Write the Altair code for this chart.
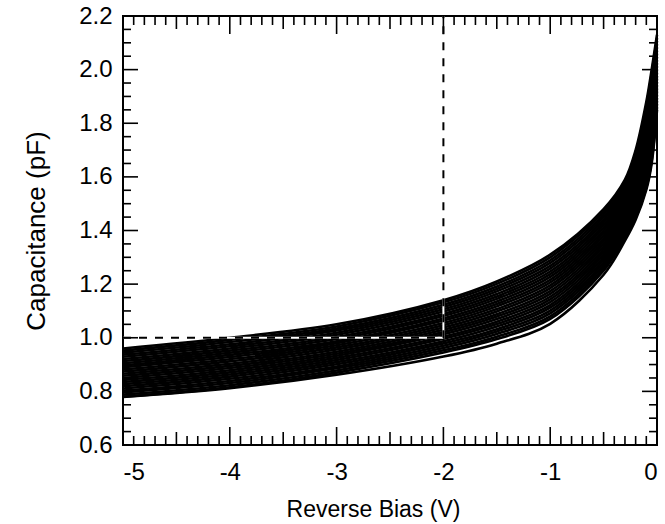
import altair as alt
import pandas as pd

# Reverse bias voltages (V) at which each device curve was read
bias_points = [-5.0, -4.0, -3.0, -2.0, -1.5, -1.0, -0.5, -0.3, -0.2, -0.1, -0.05, 0.0]

# Capacitance (pF) of each device
capacitance_curves = [
    [0.779, 0.812, 0.862, 0.930, 0.978, 1.052, 1.235, 1.362, 1.440, 1.552, 1.650, 1.850],
    [0.780, 0.815, 0.870, 0.945, 0.995, 1.070, 1.250, 1.375, 1.450, 1.560, 1.660, 1.860],
    [0.788, 0.823, 0.878, 0.953, 1.004, 1.080, 1.260, 1.384, 1.461, 1.574, 1.675, 1.872],
    [0.796, 0.831, 0.886, 0.962, 1.014, 1.091, 1.270, 1.394, 1.472, 1.588, 1.690, 1.883],
    [0.803, 0.839, 0.893, 0.970, 1.023, 1.101, 1.280, 1.403, 1.483, 1.602, 1.704, 1.895],
    [0.811, 0.847, 0.901, 0.979, 1.032, 1.112, 1.290, 1.412, 1.493, 1.616, 1.719, 1.907],
    [0.819, 0.855, 0.909, 0.987, 1.042, 1.122, 1.300, 1.422, 1.504, 1.630, 1.734, 1.919],
    [0.827, 0.863, 0.917, 0.996, 1.051, 1.133, 1.310, 1.431, 1.515, 1.643, 1.749, 1.930],
    [0.835, 0.871, 0.925, 1.004, 1.060, 1.143, 1.320, 1.440, 1.526, 1.657, 1.763, 1.942],
    [0.843, 0.879, 0.933, 1.013, 1.070, 1.153, 1.330, 1.450, 1.537, 1.671, 1.778, 1.954],
    [0.850, 0.887, 0.940, 1.021, 1.079, 1.164, 1.340, 1.459, 1.548, 1.685, 1.793, 1.966],
    [0.858, 0.895, 0.948, 1.030, 1.088, 1.174, 1.350, 1.468, 1.559, 1.699, 1.808, 1.977],
    [0.866, 0.903, 0.956, 1.038, 1.098, 1.185, 1.360, 1.478, 1.570, 1.713, 1.823, 1.989],
    [0.874, 0.912, 0.964, 1.047, 1.107, 1.195, 1.370, 1.487, 1.580, 1.727, 1.837, 2.001],
    [0.882, 0.920, 0.972, 1.055, 1.117, 1.206, 1.380, 1.497, 1.591, 1.741, 1.852, 2.013],
    [0.890, 0.928, 0.980, 1.064, 1.126, 1.216, 1.390, 1.506, 1.602, 1.755, 1.867, 2.024],
    [0.897, 0.936, 0.987, 1.072, 1.135, 1.227, 1.400, 1.515, 1.613, 1.769, 1.882, 2.036],
    [0.905, 0.944, 0.995, 1.081, 1.145, 1.237, 1.410, 1.525, 1.624, 1.783, 1.897, 2.048],
    [0.913, 0.952, 1.003, 1.089, 1.154, 1.247, 1.420, 1.534, 1.635, 1.797, 1.911, 2.060],
    [0.921, 0.960, 1.011, 1.098, 1.163, 1.258, 1.430, 1.543, 1.646, 1.810, 1.926, 2.071],
    [0.929, 0.968, 1.019, 1.106, 1.173, 1.268, 1.440, 1.553, 1.657, 1.824, 1.941, 2.083],
    [0.937, 0.976, 1.027, 1.115, 1.182, 1.279, 1.450, 1.562, 1.667, 1.838, 1.956, 2.095],
    [0.944, 0.984, 1.034, 1.123, 1.191, 1.289, 1.460, 1.571, 1.678, 1.852, 1.970, 2.107],
    [0.952, 0.992, 1.042, 1.132, 1.201, 1.300, 1.470, 1.581, 1.689, 1.866, 1.985, 2.118],
    [0.960, 1.000, 1.050, 1.140, 1.210, 1.310, 1.480, 1.590, 1.700, 1.880, 2.000, 2.130],
]

# Dashed guide: horizontal at 1.0 pF from -5 V to -2 V, then vertical at -2 V up to the top
guide_bias = [-5.0, -2.0, -2.0]
guide_cap = [1.0, 1.0, 2.2]

# Axis ticks
x_major_ticks = [-5, -4, -3, -2, -1, 0]
x_half_ticks = [-4.5, -3.5, -2.5, -1.5, -0.5]
x_minor_ticks = [round(-5 + 0.1 * i, 1) for i in range(51) if i % 5 != 0]
y_major_ticks = [0.6, 0.8, 1.0, 1.2, 1.4, 1.6, 1.8, 2.0, 2.2]
y_minor_ticks = [round(0.6 + 0.05 * i, 2) for i in range(33) if i % 4 != 0]

W, H = 534, 429
FONT = "Liberation Sans"

rows = []
for d, curve in enumerate(capacitance_curves):
    for v, c in zip(bias_points, curve):
        rows.append({"device": d, "bias": v, "cap": c})
curves_df = pd.DataFrame(rows)
guide_df = pd.DataFrame({"step": [0, 1, 2], "bias": guide_bias, "cap": guide_cap})

x_scale = alt.Scale(domain=[-5, 0], nice=False, zero=False)
y_scale = alt.Scale(domain=[0.6, 2.2], nice=False, zero=False)

curves = alt.Chart(curves_df).mark_line(
    color="black", strokeWidth=2.6, interpolate="catmull-rom"
).encode(
    x=alt.X("bias:Q", scale=x_scale, axis=alt.Axis(
        values=x_major_ticks, labelExpr="'' + datum.value", ticks=False, domain=False,
        grid=False, labelFontSize=24, labelFont=FONT, labelColor="black",
        labelPadding=15, title="Reverse Bias (V)", titleFont=FONT, titleFontSize=23,
        titleFontWeight="normal", titleColor="black", titleX=250, titleY=64,
        titleAlign="center", titleBaseline="middle")),
    y=alt.Y("cap:Q", scale=y_scale, axis=alt.Axis(
        values=y_major_ticks, format=".1f", ticks=False, domain=False, grid=False,
        labelFontSize=24, labelFont=FONT, labelColor="black", labelPadding=11,
        title="Capacitance (pF)", titleFont=FONT, titleFontSize=26,
        titleFontWeight="normal", titleColor="black", titleX=-87, titleY=214.5,
        titleAngle=270, titleAlign="center", titleBaseline="middle")),
    detail="device:N",
)

guide_white = alt.Chart(guide_df).mark_line(color="white", strokeWidth=2).encode(
    x=alt.X("bias:Q", scale=x_scale, axis=None),
    y=alt.Y("cap:Q", scale=y_scale, axis=None),
    order="step:Q",
)
guide_black = alt.Chart(guide_df).mark_line(
    color="black", strokeWidth=2, strokeDash=[8, 8]
).encode(
    x=alt.X("bias:Q", scale=x_scale, axis=None),
    y=alt.Y("cap:Q", scale=y_scale, axis=None),
    order="step:Q",
)


def x_ticks(values, length):
    df = pd.DataFrame({"v": values})
    bottom = alt.Chart(df).mark_rule(color="black", strokeWidth=1.6).encode(
        x=alt.X("v:Q", scale=x_scale, axis=None),
        y=alt.value(H), y2=alt.value(H - length))
    top = alt.Chart(df).mark_rule(color="black", strokeWidth=1.6).encode(
        x=alt.X("v:Q", scale=x_scale, axis=None),
        y=alt.value(0), y2=alt.value(length))
    return [bottom, top]


def y_ticks(values, length):
    df = pd.DataFrame({"v": values})
    left = alt.Chart(df).mark_rule(color="black", strokeWidth=1.6).encode(
        y=alt.Y("v:Q", scale=y_scale, axis=None),
        x=alt.value(0), x2=alt.value(length))
    right = alt.Chart(df).mark_rule(color="black", strokeWidth=1.6).encode(
        y=alt.Y("v:Q", scale=y_scale, axis=None),
        x=alt.value(W), x2=alt.value(W - length))
    return [left, right]


tick_layers = (x_ticks(x_major_ticks, 18) + x_ticks(x_half_ticks, 13) + x_ticks(x_minor_ticks, 9)
               + y_ticks(y_major_ticks, 15) + y_ticks(y_minor_ticks, 8))

chart = alt.layer(curves, guide_white, guide_black, *tick_layers).resolve_axis(
    x="independent", y="independent"
).properties(
    width=W, height=H,
    padding={"left": 123, "top": 16, "right": 8, "bottom": 79},
    autosize=alt.AutoSizeParams(type="none"),
    background="white",
).configure_view(stroke="black", strokeWidth=2)

chart.save("out.html", embed_options={"renderer": "svg", "actions": False})
